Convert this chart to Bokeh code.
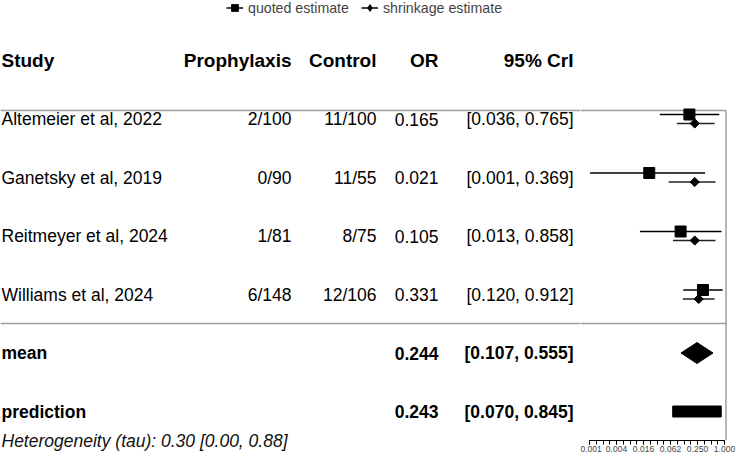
import numpy as np
from bokeh.plotting import figure
from bokeh.layouts import row
from bokeh.models import (ColumnDataSource, Range1d, LogAxis, FixedTicker,
                          Legend, LegendItem)
from bokeh.core.properties import value
from bokeh.embed import file_html
from bokeh.resources import INLINE

# ---------------- data ----------------
header = ["Study", "Prophylaxis", "Control", "OR", "95% CrI"]
studies = ["Altemeier et al, 2022", "Ganetsky et al, 2019",
           "Reitmeyer et al, 2024", "Williams et al, 2024"]
prophylaxis = ["2/100", "0/90", "1/81", "6/148"]
control = ["11/100", "11/55", "8/75", "12/106"]
or_text = ["0.165", "0.021", "0.105", "0.331"]
cri_text = ["[0.036, 0.765]", "[0.001, 0.369]", "[0.013, 0.858]", "[0.120, 0.912]"]
quoted_or = [0.165, 0.021, 0.105, 0.331]
quoted_lo = [0.036, 0.001, 0.013, 0.120]
quoted_hi = [0.765, 0.369, 0.858, 0.912]
shrink_or = [0.217, 0.217, 0.217, 0.266]
shrink_lo = [0.087, 0.057, 0.071, 0.118]
shrink_hi = [0.600, 0.630, 0.630, 0.600]
summary_labels = ["mean", "prediction"]
summary_or_text = ["0.244", "0.243"]
summary_cri_text = ["[0.107, 0.555]", "[0.070, 0.845]"]
summary_or = [0.244, 0.243]
summary_lo = [0.107, 0.070]
summary_hi = [0.555, 0.845]
heterogeneity = "Heterogeneity (tau): 0.30 [0.00, 0.88]"
legend_labels = ["quoted estimate", "shrinkage estimate"]
axis_ticks = [2.0 ** -10, 2.0 ** -8, 2.0 ** -6, 2.0 ** -4, 2.0 ** -2, 1.0]
axis_tick_labels = ["0.001", "0.004", "0.016", "0.062", "0.250", "1.000"]
axis_minor_ticks = [2.0 ** (k / 2) for k in range(-20, 1)]

# ---------------- layout ----------------
W, H = 736, 461
LEFT_W = 580
RIGHT_W = W - LEFT_W
FRAME_H_RIGHT = 440
ROW_PX = 58.5
HEADER_PX = 60.0
PX_PER_LOG2 = 13.5
OR_ONE_PX = 724.0 - LEFT_W       # inside the right panel
BORDER_PX = OR_ONE_PX + 1.5
FONT_NAME = "Liberation Sans"
FONT = value(FONT_NAME)
GRAY = "#9c9c9c"

def row_units(px):
    return (px - HEADER_PX) / ROW_PX

def or_at(px):
    return 2.0 ** ((px - OR_ONE_PX) / PX_PER_LOG2)

study_rows = [1, 2, 3, 4]
sum_rows = [5, 6]
sep_y = [row_units(110), row_units(323)]
off = 4.5 / ROW_PX

src = ColumnDataSource(dict(
    yq=[r - off for r in study_rows], ys=[r + off for r in study_rows],
    q=quoted_or, qlo=quoted_lo, qhi=quoted_hi,
    s=shrink_or, slo=shrink_lo, shi=shrink_hi))

# ---------------- left: table ----------------
pl = figure(width=LEFT_W, height=H, x_range=Range1d(0, LEFT_W),
            y_range=Range1d(row_units(H), row_units(0)),
            output_backend="svg", toolbar_location=None,
            x_axis_location=None, y_axis_location=None, min_border=0)
pl.outline_line_color = None
pl.grid.visible = False
pl.frame_align = False

pl.segment(x0=[0, 0], x1=[LEFT_W] * 2, y0=sep_y, y1=sep_y, line_color=GRAY, line_width=1.5)

col_x = {"study": 1, "pro": 291, "ctl": 376, "or": 438, "cri": 573}

def txt(xs, ys, texts, align, size, style="normal", color="black"):
    pl.text(x=xs, y=ys, text=texts, text_align=align, text_baseline="middle",
            text_font=FONT, text_font_size=size, text_font_style=style, text_color=color)

hx = [col_x["study"], col_x["pro"], col_x["ctl"], col_x["or"], col_x["cri"]]
ha = ["left", "right", "right", "right", "right"]
for h, x, a in zip(header, hx, ha):
    txt([x], [0], [h], a, "19px", "bold")

txt([col_x["study"]] * 4, study_rows, studies, "left", "17.5px")
txt([col_x["pro"]] * 4, study_rows, prophylaxis, "right", "17.5px")
txt([col_x["ctl"]] * 4, study_rows, control, "right", "17.5px")
txt([col_x["or"]] * 4, study_rows, or_text, "right", "17.5px")
txt([col_x["cri"]] * 4, study_rows, cri_text, "right", "17.5px")

txt([col_x["study"]] * 2, sum_rows, summary_labels, "left", "17.5px", "bold")
txt([col_x["or"]] * 2, sum_rows, summary_or_text, "right", "17.5px", "bold")
txt([col_x["cri"]] * 2, sum_rows, summary_cri_text, "right", "17.5px", "bold")

txt([col_x["study"]], [row_units(440)], [heterogeneity], "left", "17.5px", "italic", "#111111")

# legend key glyphs (hidden renderers sharing the forest data)
lq_line = pl.segment(x0="qlo", x1="qhi", y0="yq", y1="yq", source=src,
                     line_color="black", line_width=1.5, visible=False)
lq_pt = pl.scatter(x="q", y="yq", source=src, marker="square", color="black", visible=False)
ls_line = pl.segment(x0="slo", x1="shi", y0="ys", y1="ys", source=src,
                     line_color="black", line_width=1.5, visible=False)
ls_pt = pl.scatter(x="s", y="ys", source=src, marker="diamond", color="black", visible=False)
legend = Legend(items=[LegendItem(label=legend_labels[0], renderers=[lq_line, lq_pt]),
                       LegendItem(label=legend_labels[1], renderers=[ls_line, ls_pt])],
                orientation="horizontal", location=(226, H - 16),
                margin=0, padding=0, spacing=12, label_standoff=5,
                glyph_width=17, glyph_height=17, label_height=17,
                label_text_font=FONT_NAME, label_text_font_size="14.2px",
                border_line_color=None, background_fill_alpha=0, inactive_fill_alpha=0)
pl.add_layout(legend)

# ---------------- right: forest ----------------
pr = figure(width=RIGHT_W, height=H, x_range=Range1d(or_at(0), or_at(RIGHT_W)),
            y_range=Range1d(row_units(FRAME_H_RIGHT), row_units(0)),
            x_axis_type="log", output_backend="svg", toolbar_location=None,
            x_axis_location=None, y_axis_location=None,
            min_border_left=0, min_border_right=0, min_border_top=0,
            min_border_bottom=H - FRAME_H_RIGHT)
pr.outline_line_color = None
pr.grid.visible = False
pr.frame_align = False

pr.segment(x0=[or_at(0)] * 2, x1=[or_at(BORDER_PX)] * 2, y0=sep_y, y1=sep_y,
           line_color=GRAY, line_width=1.5)
pr.segment(x0=[or_at(BORDER_PX)], x1=[or_at(BORDER_PX)], y0=[sep_y[0]],
           y1=[row_units(FRAME_H_RIGHT)], line_color=GRAY, line_width=1.5)

pr.segment(x0="qlo", x1="qhi", y0="yq", y1="yq", source=src, line_color="black", line_width=1.5)
pr.scatter(x="q", y="yq", source=src, marker="square", size=11, color="black")
pr.segment(x0="slo", x1="shi", y0="ys", y1="ys", source=src, line_color="#222222", line_width=1.5)
pr.scatter(x="s", y="ys", source=src, marker="square", angle=np.pi / 4, size=6.5, color="black")

dh = 10.5 / ROW_PX
pr.patches(xs=[[summary_lo[0], summary_or[0], summary_hi[0], summary_or[0]]],
           ys=[[sum_rows[0], sum_rows[0] - dh, sum_rows[0], sum_rows[0] + dh]],
           fill_color="black", line_color="black")
bh = 5.5 / ROW_PX
pr.quad(left=[summary_lo[1]], right=[summary_hi[1]], top=[sum_rows[1] - bh],
        bottom=[sum_rows[1] + bh], fill_color="black", line_color="black")

ax = LogAxis(ticker=FixedTicker(ticks=axis_ticks, minor_ticks=axis_minor_ticks),
             bounds=(axis_ticks[0], axis_ticks[-1]),
             major_label_overrides=dict(zip(axis_ticks, axis_tick_labels)),
             major_tick_in=0, major_tick_out=4, minor_tick_in=0, minor_tick_out=4,
             major_label_text_font=FONT_NAME, major_label_text_font_size="8.5px",
             major_label_standoff=1, axis_line_color="black", axis_line_width=1.2,
             major_tick_line_color="black", minor_tick_line_color="black")
pr.add_layout(ax, "below")

layout = row(pl, pr, spacing=0)
open("out.html", "w").write(file_html(layout, INLINE))
